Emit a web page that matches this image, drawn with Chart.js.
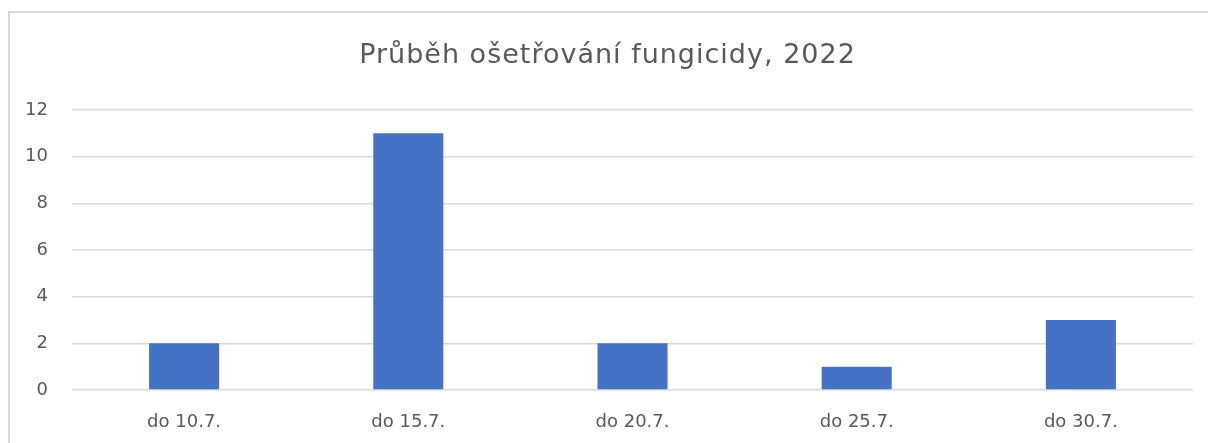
<!DOCTYPE html>
<html>
<head>
<meta charset="utf-8">
<script src="https://cdn.jsdelivr.net/npm/chart.js@4"></script>
<style>
html,body{margin:0;padding:0;background:#fff;overflow:hidden;}
#frame{position:absolute;left:8px;top:11px;width:1400px;height:600px;border:2px solid #d9d9d9;box-sizing:border-box;}
#wrap{position:absolute;left:0;top:0;width:1208px;height:443px;}
</style>
</head>
<body>
<div id="frame"></div>
<div id="wrap"><canvas id="c" width="1208" height="443"></canvas></div>
<script>
const categories = ["do 10.7.", "do 15.7.", "do 20.7.", "do 25.7.", "do 30.7."];
const values = [2, 11, 2, 1, 3];
const titleText = "Průběh ošetřování fungicidy, 2022";

const txt = "#595959";

const titleSpacing = {
  id: "titleSpacing",
  afterLayout(chart) {
    const tb = chart.titleBlock;
    if (tb && !tb._spaced) {
      const orig = tb.draw.bind(tb);
      tb.draw = function () {
        const ctx = chart.ctx;
        ctx.save();
        if ("letterSpacing" in ctx) ctx.letterSpacing = "1px";
        orig();
        ctx.restore();
      };
      tb._spaced = true;
    }
  }
};

new Chart(document.getElementById("c"), {
  type: "bar",
  data: {
    labels: categories,
    datasets: [{
      data: values,
      backgroundColor: "#4472C4",
      borderWidth: 0,
      barPercentage: 0.625,
      categoryPercentage: 0.5
    }]
  },
  plugins: [titleSpacing],
  options: {
    responsive: false,
    animation: false,
    layout: { padding: { left: 22, right: 15, top: 0, bottom: 0 } },
    plugins: {
      legend: { display: false },
      tooltip: { enabled: false },
      title: {
        display: true,
        text: titleText,
        color: txt,
        font: { family: "DejaVu Sans", size: 27, weight: "normal" },
        padding: { top: 40, bottom: 37.6 }
      }
    },
    scales: {
      x: {
        grid: { display: false, drawTicks: false },
        border: { display: false },
        ticks: { color: txt, font: { family: "DejaVu Sans", size: 18 }, padding: 22, maxRotation: 0 },
        afterFit: (s) => { s.height = 53; }
      },
      y: {
        min: 0, max: 12,
        grid: { color: "#d9d9d9", lineWidth: 1.5, drawTicks: false },
        border: { display: false },
        ticks: { stepSize: 2, color: txt, font: { family: "DejaVu Sans", size: 18 }, padding: 24 },
        afterFit: (s) => { s.width = 50; }
      }
    }
  }
});
</script>
</body>
</html>
